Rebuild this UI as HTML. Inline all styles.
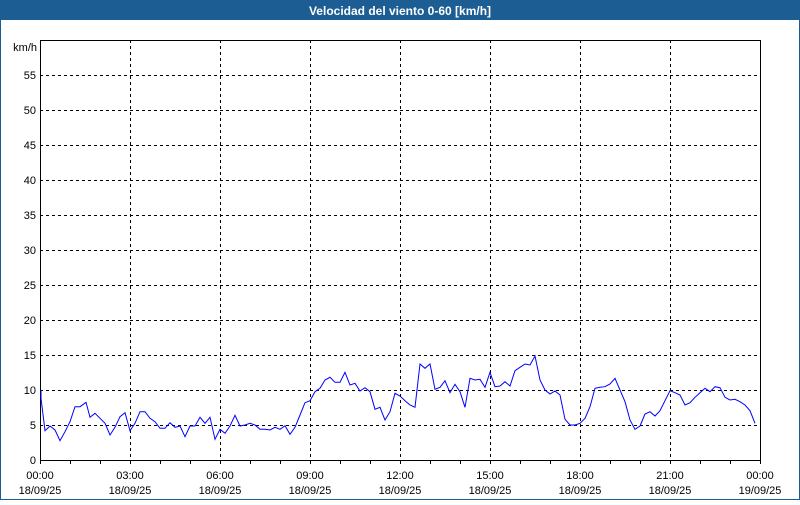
<!DOCTYPE html>
<html><head><meta charset="utf-8"><style>
body{margin:0;width:800px;height:500px;overflow:hidden;background:#fff}
</style></head><body>
<svg width="800" height="500" xmlns="http://www.w3.org/2000/svg" font-family="Liberation Sans, sans-serif" font-size="11">
<rect x="0.5" y="0.5" width="799" height="499" fill="#fff" stroke="#1c5e94"/>
<rect x="0" y="0" width="800" height="20" fill="#1c5e94"/>
<text x="400" y="15" fill="#fff" font-weight="bold" font-size="12" text-anchor="middle">Velocidad del viento 0-60 [km/h]</text>
<g id="grid" stroke="#000" stroke-dasharray="3,3" stroke-width="1"></g>
<rect x="40.5" y="40.5" width="720" height="420" fill="none" stroke="#000"/>
<g id="lbl" fill="#000"></g>
<polyline id="ln" fill="none" stroke="#0000ff" stroke-width="1"/>
</svg>
<script>
var ns="http://www.w3.org/2000/svg",g=document.getElementById('grid'),l=document.getElementById('lbl');
function el(p,t,a,txt){var e=document.createElementNS(ns,t);for(var k in a)e.setAttribute(k,a[k]);if(txt)e.textContent=txt;p.appendChild(e);return e;}
for(var v=0;v<=55;v+=5){var y=460-v*7;if(v>0)el(g,'line',{x1:40,x2:760,y1:y+.5,y2:y+.5});el(l,'text',{x:36,y:y+4,'text-anchor':'end'},String(v));}
el(l,'text',{x:37,y:51,'text-anchor':'end'},'km/h');
var hrs=['00:00','03:00','06:00','09:00','12:00','15:00','18:00','21:00','00:00'];
for(var i=0;i<=8;i++){var x=40+i*90;if(i>0&&i<8)el(g,'line',{x1:x+.5,x2:x+.5,y1:40,y2:460});
el(l,'text',{x:x,y:479,'text-anchor':'middle'},hrs[i]);el(l,'text',{x:x,y:494,'text-anchor':'middle'},i==8?'19/09/25':'18/09/25');}
for(var h=0;h<=24;h++){el(l,'line',{x1:40+h*30+.5,x2:40+h*30+.5,y1:460,y2:464,stroke:'#000'});}
var z2=[[123,150],[123,175],[135,272],[150,258],[165,270],[180,302],[195,275],[210,245],[225,200],[240,200],[258,187],[270,232],[285,220],[300,235],[315,250],[330,285],[345,262],[360,230],[375,218],[390,272],[405,250],[420,215],[435,215],[450,235],[465,245],[480,265],[495,265],[510,248],[525,262],[540,258],[555,290],[570,258],[585,258],[600,232],[615,250],[630,232],[645,298],[660,268],[675,280],[690,258],[705,226],[720,258],[735,255],[750,250],[765,255],[780,268],[795,268],[810,270],[825,262],[840,268],[855,257],[870,283],[885,262],[900,225]];
var z3=[[75,188],[90,182],[105,155],[120,145],[135,120],[150,112],[165,127],[180,127],[195,97],[210,135],[225,130],[240,153],[255,143],[270,155],[285,208],[300,202],[315,240],[330,215],[345,160],[360,168],[375,182],[390,195],[405,202],[420,72],[435,85],[450,72],[465,148],[480,142],[495,122],[510,158],[525,133],[540,155],[555,202],[570,115],[585,120],[600,118],[615,142],[630,97],[645,140],[660,138],[675,125],[690,138],[705,92]];
var z4=[[0,82],[15,72],[30,75],[45,48],[60,120],[75,150],[90,162],[105,153],[120,165],[135,238],[150,255],[165,255],[180,250],[195,235],[210,200],[225,145],[240,142],[255,140],[270,132],[285,115],[300,150],[315,185],[330,240],[345,268],[360,258],[375,222],[390,215],[405,228],[420,212],[435,182],[450,152],[465,158],[480,165],[495,195],[510,188],[525,172],[540,158],[555,145],[570,155],[585,140],[600,143],[615,172],[630,180],[645,178],[660,185],[675,195],[690,212],[705,250]];
var pts=[];
z2.forEach(function(p){pts.push((p[0]/3).toFixed(1)+','+(340+p[1]/3).toFixed(1));});
z3.forEach(function(p){pts.push((280+p[0]/3).toFixed(1)+','+(340+p[1]/3).toFixed(1));});
z4.forEach(function(p){pts.push((520+p[0]/3).toFixed(1)+','+(340+p[1]/3).toFixed(1));});
document.getElementById('ln').setAttribute('points',pts.join(' '));
</script>
</body></html>
